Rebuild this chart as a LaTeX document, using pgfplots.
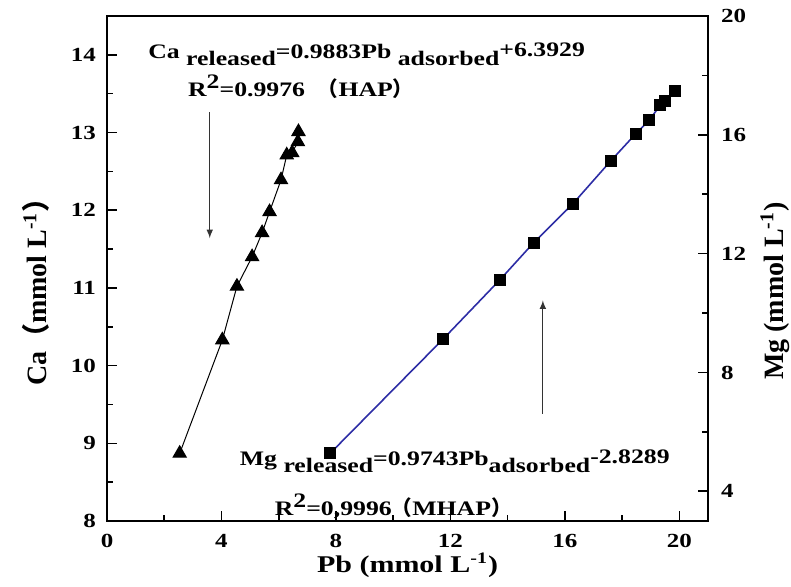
\documentclass[border=0pt]{standalone}
\usepackage{pgfplots}
\pgfplotsset{compat=1.18}
\usepackage{fontspec}
\setmainfont[FakeStretch=1.25]{Liberation Serif}
\newfontfamily\plainserif{Liberation Serif}
\newfontfamily\cjk{Noto Sans CJK SC}
\definecolor{mgblue}{RGB}{45,45,165}
\pgfplotsset{
  common/.style={
    scale only axis, width=300.5pt, height=252.5pt,
    xmin=0, xmax=21,
    axis line style={line width=0.8pt},
    major tick length=5pt, minor tick length=3pt,
    every tick/.style={line width=0.8pt, black},
    /pgf/number format/assume math mode=true,
    ticklabel style={font=\bfseries\fontsize{10}{12}\selectfont},
  }
}
\begin{document}
\begin{tikzpicture}
\useasboundingbox (0pt,0pt) rectangle (395.5pt,293.5pt);
\begin{axis}[common,
  at={(53.5pt,33pt)}, anchor=south west,
  ymin=8, ymax=14.5,
  xtick={0,4,...,20}, minor xtick={2,6,...,18},
  ytick={8,...,14}, minor ytick={8.5,9.5,...,13.5},
  xtick pos=bottom, ytick pos=left,
  xticklabel style={yshift=-3pt},
  yticklabel style={xshift=-2pt},
  xlabel={\bfseries Pb (mmol L\textsuperscript{-1})},
  xlabel style={font=\fontsize{12}{14}\selectfont, at={(axis description cs:0.5,-0.088)}, anchor=center},
  ylabel={\plainserif\bfseries Ca{\cjk （}mmol L\textsuperscript{-1}{\cjk ）}},
  ylabel style={font=\fontsize{14}{16}\selectfont, at={(axis description cs:-0.118,0.467)}, anchor=center},
  clip=false,
]
\addplot[black, line width=0.5pt, mark=triangle*, mark size=3.8pt, mark options={solid}] coordinates {
(2.54,8.87) (4.03,10.33) (4.54,11.02) (5.07,11.40) (5.42,11.71) (5.68,11.98)
(6.08,12.39) (6.28,12.71) (6.47,12.74) (6.67,12.88) (6.69,13.01)
};
\node[anchor=base west, font=\bfseries\fontsize{10.3}{12}\selectfont, inner sep=0pt] at (axis cs:1.43,13.95)
  {Ca \raisebox{-3.5pt}{released}=0.9883Pb \raisebox{-3.5pt}{adsorbed}\raisebox{1pt}{+6.3929}};
\node[anchor=base west, font=\bfseries\fontsize{10.3}{12}\selectfont, inner sep=0pt] at (axis cs:2.82,13.46)
  {R\raisebox{4pt}{2}=0.9976\ \ {\cjk （}HAP{\cjk ）}};
\node[anchor=base west, font=\bfseries\fontsize{10.3}{12}\selectfont, inner sep=0pt] at (axis cs:4.63,8.72)
  {Mg \raisebox{-3.5pt}{released}=0.9743Pb\raisebox{-3.5pt}{adsorbed}\raisebox{1pt}{-2.8289}};
\node[anchor=base west, font=\bfseries\fontsize{10.3}{12}\selectfont, inner sep=0pt] at (axis cs:5.85,8.077)
  {R\raisebox{4pt}{2}=0,9996{\cjk （}MHAP{\cjk ）}};
\draw[-latex, line width=0.5pt, black!80] (axis cs:3.59,13.26) -- (axis cs:3.59,11.64);
\draw[-latex, line width=0.5pt, black!80] (axis cs:15.23,9.38) -- (axis cs:15.23,10.84);
\end{axis}
\begin{axis}[common,
  at={(53.5pt,33pt)}, anchor=south west,
  ymin=3, ymax=20,
  xtick=\empty, minor xtick={},
  ytick={4,8,...,20}, minor ytick={6,10,...,18},
  ytick pos=right, yticklabel pos=right,
  yticklabel style={xshift=3pt},
  ylabel={\plainserif\bfseries Mg (mmol L\textsuperscript{-1})},
  ylabel style={font=\fontsize{14}{16}\selectfont, at={(axis description cs:1.112,0.455)}, anchor=center},
]
\addplot[mgblue, line width=0.8pt, mark=square*, mark size=2.6pt, mark options={black, solid}] coordinates {
(7.80,5.28) (11.75,9.13) (13.73,11.12) (14.91,12.37) (16.27,13.67) (17.60,15.12)
(18.48,16.04) (18.94,16.49) (19.34,17.00) (19.50,17.13) (19.83,17.46)
};
\end{axis}
\end{tikzpicture}
\end{document}
